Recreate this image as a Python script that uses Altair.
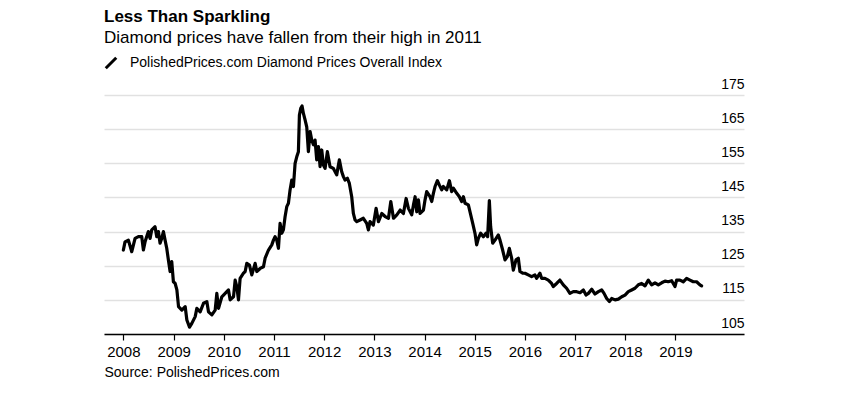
import altair as alt
import pandas as pd

# Decimal years and index values
years = [
    2008.000, 2008.033, 2008.100, 2008.167, 2008.233, 2008.299, 2008.366, 2008.399, 2008.432, 2008.498,
    2008.532, 2008.565, 2008.631, 2008.665, 2008.698, 2008.731, 2008.764, 2008.798, 2008.831, 2008.864,
    2008.897, 2008.931, 2008.964, 2008.997, 2009.030, 2009.064, 2009.097, 2009.163, 2009.230, 2009.263,
    2009.316, 2009.362, 2009.429, 2009.462, 2009.528, 2009.595, 2009.661, 2009.694, 2009.761, 2009.827,
    2009.860, 2009.894, 2009.960, 2010.027, 2010.093, 2010.126, 2010.193, 2010.226, 2010.259, 2010.292,
    2010.325, 2010.392, 2010.425, 2010.458, 2010.511, 2010.558, 2010.624, 2010.657, 2010.724, 2010.790,
    2010.823, 2010.890, 2010.956, 2010.989, 2011.022, 2011.056, 2011.089, 2011.122, 2011.155, 2011.188,
    2011.222, 2011.255, 2011.288, 2011.321, 2011.355, 2011.388, 2011.421, 2011.454, 2011.487, 2011.507,
    2011.534, 2011.560, 2011.587, 2011.620, 2011.653, 2011.686, 2011.720, 2011.753, 2011.786, 2011.819,
    2011.852, 2011.886, 2011.919, 2011.952, 2011.985, 2012.019, 2012.065, 2012.118, 2012.185, 2012.251,
    2012.304, 2012.351, 2012.384, 2012.417, 2012.464, 2012.503, 2012.550, 2012.583, 2012.616, 2012.650,
    2012.716, 2012.782, 2012.849, 2012.882, 2012.915, 2012.981, 2013.034, 2013.081, 2013.147, 2013.214,
    2013.280, 2013.327, 2013.380, 2013.447, 2013.513,
    2013.578, 2013.632, 2013.678, 2013.744, 2013.778, 2013.811, 2013.844, 2013.877, 2013.910, 2013.977,
    2014.010, 2014.043, 2014.110, 2014.143, 2014.176, 2014.209, 2014.256, 2014.296, 2014.342, 2014.375,
    2014.442, 2014.495, 2014.541, 2014.574, 2014.641, 2014.694, 2014.740, 2014.774, 2014.807, 2014.873,
    2014.906, 2014.960, 2015.006, 2015.039, 2015.073, 2015.119, 2015.172, 2015.225, 2015.258, 2015.292,
    2015.318, 2015.358, 2015.405, 2015.471, 2015.504, 2015.557, 2015.604, 2015.650, 2015.690, 2015.736,
    2015.770, 2015.823, 2015.869, 2015.902, 2015.956, 2016.002, 2016.068, 2016.135, 2016.201, 2016.234,
    2016.301, 2016.334, 2016.400, 2016.467, 2016.533, 2016.566, 2016.633, 2016.699, 2016.766, 2016.832,
    2016.898, 2016.965, 2017.031, 2017.098, 2017.164, 2017.217, 2017.264, 2017.330, 2017.396, 2017.463,
    2017.529, 2017.576, 2017.629, 2017.682, 2017.729, 2017.795, 2017.861, 2017.928, 2017.994, 2018.060,
    2018.127, 2018.193, 2018.260, 2018.326, 2018.393, 2018.459, 2018.525, 2018.592, 2018.658, 2018.725,
    2018.791, 2018.857, 2018.924, 2018.990, 2019.023, 2019.090, 2019.156, 2019.223, 2019.289, 2019.355,
    2019.422, 2019.488, 2019.521,
]
values = [
    129.6, 132.0, 132.5, 129.1, 133.0, 133.5, 133.5, 129.6, 132.0, 135.0,
    133.0, 135.5, 136.4, 133.5, 135.0, 131.6, 133.0, 135.0, 132.5, 130.1,
    126.7, 123.3, 126.2, 120.3, 119.8, 117.9, 113.0, 112.0, 113.0, 109.1,
    107.0, 108.1, 110.1, 112.5, 111.5, 114.0, 114.5, 111.5, 110.6, 112.0,
    116.9, 112.5, 115.9, 116.9, 117.9, 115.0, 115.9, 120.8, 118.9, 115.0,
    121.3, 122.8, 123.3, 125.7, 125.2, 122.3, 125.7, 123.3, 124.2, 124.7,
    127.2, 129.6, 131.1, 132.5, 133.5, 132.5, 130.1, 137.4, 134.5, 135.5,
    139.4, 142.3, 143.3, 147.2, 150.1, 148.2, 155.0, 156.9, 158.4, 169.1,
    171.1, 171.8, 169.6, 167.7, 165.7, 158.4, 164.3, 161.8, 160.4, 161.8,
    156.0, 159.9, 154.0, 158.9, 154.5, 153.5, 158.4, 154.0, 153.5, 151.6,
    156.0, 152.5, 151.1, 150.1, 150.6, 149.1, 145.2, 140.3, 138.4, 137.9,
    138.4, 138.9, 137.4, 135.5, 137.9, 136.9, 141.8, 137.9, 140.3, 139.4,
    138.9, 143.8, 138.9, 139.9, 141.3,
    140.3, 144.7, 141.8, 139.9, 142.8, 145.2, 140.8, 144.3, 140.3, 141.3,
    144.3, 146.7, 145.2, 143.8, 146.2, 148.2, 149.9, 148.6, 147.2, 148.2,
    147.2, 149.9, 146.7, 147.7, 146.2, 145.2, 143.8, 145.2, 143.3, 142.8,
    140.8, 137.4, 134.5, 131.1, 133.0, 134.5, 133.5, 134.5, 133.5, 144.1,
    136.4, 131.6, 132.5, 134.0, 132.5, 129.6, 126.7, 127.7, 130.1, 127.2,
    123.7, 126.7, 127.2, 123.3, 122.8, 122.8, 122.3, 121.8, 122.3, 121.3,
    122.8, 121.3, 121.3, 120.8, 119.8, 118.9, 119.8, 120.8, 119.4, 118.4,
    116.9, 117.4, 117.4, 117.1, 117.9, 116.4, 116.9, 118.1, 116.7, 117.4,
    117.9, 116.9, 115.4, 114.5, 115.4, 115.0, 115.2, 115.9, 116.4, 117.4,
    117.9, 118.4, 119.4, 119.8, 119.1, 120.8, 119.4, 120.0, 119.4, 120.0,
    120.5, 120.3, 120.6, 118.9, 120.8, 120.8, 120.3, 121.3, 120.8, 120.3,
    120.3, 119.4, 119.1,
]
series_name = "PolishedPrices.com Diamond Prices Overall Index"
y_ticks = [105, 115, 125, 135, 145, 155, 165, 175]
x_tick_years = list(range(2008, 2020))


def to_date(y):
    base = pd.Timestamp(int(y), 1, 1)
    return base + pd.Timedelta(days=(y - int(y)) * 365.25)


df = pd.DataFrame({
    "date": [to_date(y) for y in years],
    "value": values,
    "series": series_name,
})

FONT = "Liberation Sans"

chart = alt.Chart(df).mark_line(
    strokeWidth=3.2, strokeJoin="round", strokeCap="round"
).encode(
    x=alt.X(
        "date:T",
        scale=alt.Scale(domain=[alt.DateTime(year=2007, month=8, date=13),
                                alt.DateTime(year=2020, month=5, date=14)]),
        axis=alt.Axis(
            title="Source: PolishedPrices.com",
            titleAnchor="start", titleAlign="left", titleFontWeight="normal",
            titleFontSize=14, titleFont=FONT, titleColor="#000", titlePadding=6,
            format="%Y",
            values=[alt.DateTime(year=y, month=1, date=1) for y in x_tick_years],
            grid=False, domainColor="#000", domainWidth=1.5,
            tickColor="#000", tickWidth=1.2, tickSize=6,
            labelFont=FONT, labelFontSize=15, labelColor="#000", labelPadding=4,
            labelFlush=False,
        ),
    ),
    y=alt.Y(
        "value:Q",
        scale=alt.Scale(domain=[105, 175], nice=False, zero=False),
        axis=alt.Axis(
            title=None, orient="right", values=y_ticks,
            grid=True, gridColor="#e1e1e1", gridWidth=1.5,
            domain=False, ticks=False,
            labelAlign="right", labelPadding=0, labelBaseline="alphabetic",
            labelOffset=-7, labelFont=FONT, labelFontSize=14, labelColor="#000",
        ),
    ),
    color=alt.Color(
        "series:N",
        scale=alt.Scale(range=["#000000"]),
        legend=alt.Legend(
            title=None, orient="none", legendX=0, legendY=-39,
            symbolType="M-1,1L1,-1", symbolStrokeWidth=3, symbolSize=110,
            symbolStrokeColor="#000", labelLimit=0,
            labelFont=FONT, labelFontSize=14, labelColor="#000", labelOffset=12,
        ),
    ),
).properties(
    width=640,
    height=239,
    padding={"left": 96, "top": 87, "right": 100, "bottom": 55},
    autosize=alt.AutoSizeParams(type="none"),
    title=alt.TitleParams(
        text="Less Than Sparkling",
        subtitle="Diamond prices have fallen from their high in 2011",
        anchor="start", frame="group",
        font=FONT, fontSize=17, fontWeight="bold", color="#000",
        subtitleFont=FONT, subtitleFontSize=17, subtitleColor="#000",
        subtitlePadding=4, offset=9,
    ),
).configure_view(stroke=None)

chart.save("out.html", embed_options={"renderer": "svg", "actions": False})
